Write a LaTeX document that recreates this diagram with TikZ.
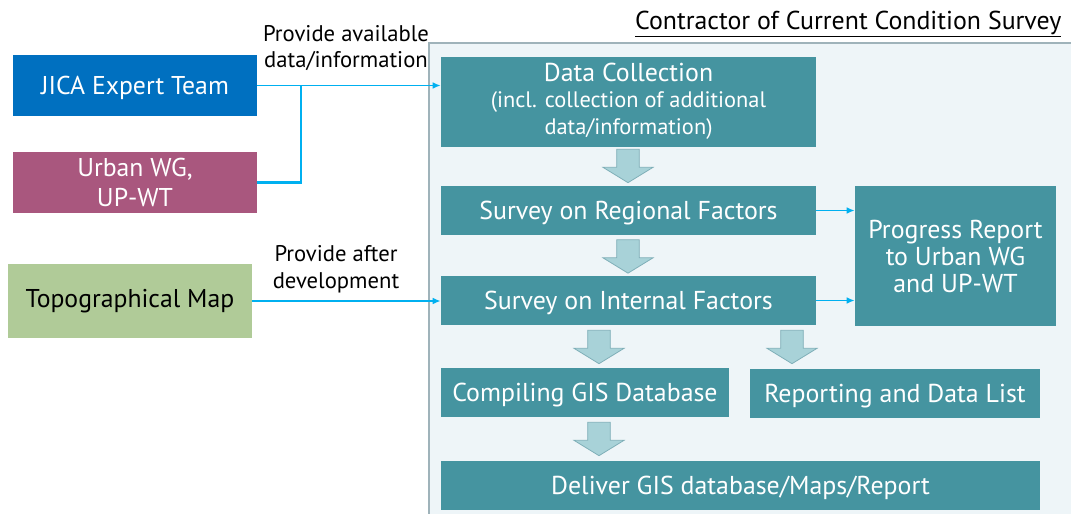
\documentclass[tikz,border=0pt]{standalone}
\usepackage{fontspec}
\setmainfont{PT Sans}
\usetikzlibrary{arrows.meta,positioning,calc}
\definecolor{jicablue}{HTML}{0070C0}
\definecolor{wgpink}{HTML}{A9577E}
\definecolor{mapgreen}{HTML}{B0CB98}
\definecolor{stepteal}{HTML}{4594A0}
\definecolor{flowcyan}{HTML}{00B0F0}
\definecolor{boxbg}{HTML}{EEF5F8}
\definecolor{boxline}{HTML}{9FB3BA}
\definecolor{arrowfill}{HTML}{A8D2D8}
\definecolor{arrowline}{HTML}{7FAFB8}
\newcommand\smalltxt{\fontsize{16.8}{18.5}\selectfont}

\tikzset{
  src/.style={minimum width=183pt, inner sep=2pt, align=center,
    font=\fontsize{19.3}{23}\selectfont},
  stepbox/.style={fill=stepteal, text=white, inner sep=2pt, align=center,
    font=\fontsize{19.4}{20.25}\selectfont},
  flatstep/.style={stepbox, minimum height=36.75pt, text depth=0pt},
  feed/.style={flowcyan, line width=1.4pt, -{Latex[length=6pt,width=5pt]}},
  link/.style={flowcyan, line width=1.8pt},
  fatarrow/.pic={
    \draw[fill=arrowfill, draw=arrowline, line width=0.6pt]
      (-8.5pt,12.5pt) -- (8.5pt,12.5pt) -- (8.5pt,-1pt) -- (18.75pt,-1pt)
      -- (0pt,-12.5pt) -- (-18.75pt,-1pt) -- (-8.5pt,-1pt) -- cycle;
  },
  note/.style={align=center, font=\fontsize{17}{20}\selectfont}
}

\begin{document}
\begin{tikzpicture}[x=0.75pt, y=-0.75pt]
    \useasboundingbox (0,0) rectangle (1071,514);

    % Contractor area
    \fill[boxbg] (429,43) rectangle (1071,514);
    \draw[boxline, line width=0.8pt] (429,514) -- (429,43) -- (1071,43);
    \node[anchor=east, font=\fontsize{19.4}{22}\selectfont] (title) at (1066,24)
        {\underline{Contractor of Current Condition Survey}};

    % Sources
    \node[src, fill=jicablue, text=white, minimum height=45.75pt, text depth=0pt] (jica) at (135,85.5) {JICA Expert Team};
    \node[src, fill=wgpink, text=white, minimum height=45.75pt] (wg) at (135,182.5) {Urban WG,\\UP-WT};
    \node[src, fill=mapgreen, minimum height=55.5pt] (topo) at (130,301) {Topographical Map};

    % Steps
    \node[stepbox, minimum width=281.25pt, minimum height=67.5pt] (dc) at (628.5,101.5)
        {Data Collection\\[-1pt]\smalltxt (incl. collection of additional\\\smalltxt data/information)};
    \node[flatstep, minimum width=281.25pt] (reg) at (628.5,210.5) {Survey on Regional Factors};
    \node[flatstep, minimum width=281.25pt] (int) at (628.5,300.5) {Survey on Internal Factors};
    \node[stepbox, minimum width=150.75pt, minimum height=105pt] (prog) at (955.5,256)
        {Progress Report\\to Urban WG\\and UP-WT};
    \node[flatstep, minimum width=216pt] (gis) at (585,392.5) {Compiling GIS Database};
    \node[flatstep, minimum width=217.5pt] (rep) at (895,393.5) {Reporting and Data List};
    \node[flatstep, minimum width=449.25pt] (dlv) at (740.5,485.5) {Deliver GIS database/Maps/Report};

    % Fat arrows
    \pic at (628,166) {fatarrow};
    \pic at (628,256.5) {fatarrow};
    \pic at (599,347) {fatarrow};
    \pic at (792,347) {fatarrow};
    \pic at (599,439) {fatarrow};

    % Inputs
    \coordinate (join) at ($(jica.east)+(33pt,0)$);
    \draw[feed] (jica.east) -- (jica.east -| dc.west);
    \draw[link] (wg.east) -| (join);
    \draw[feed] (topo.east) -- (topo.east -| int.west);
    \node[note] (lbla) at (346,48) {Provide available\\data/information};
    \node[note] (lblb) at (336,269.5) {Provide after\\development};

    % Reports
    \draw[feed] (reg.east) -- (reg.east -| prog.west);
    \draw[feed] (int.east) -- (int.east -| prog.west);
\end{tikzpicture}
\end{document}
